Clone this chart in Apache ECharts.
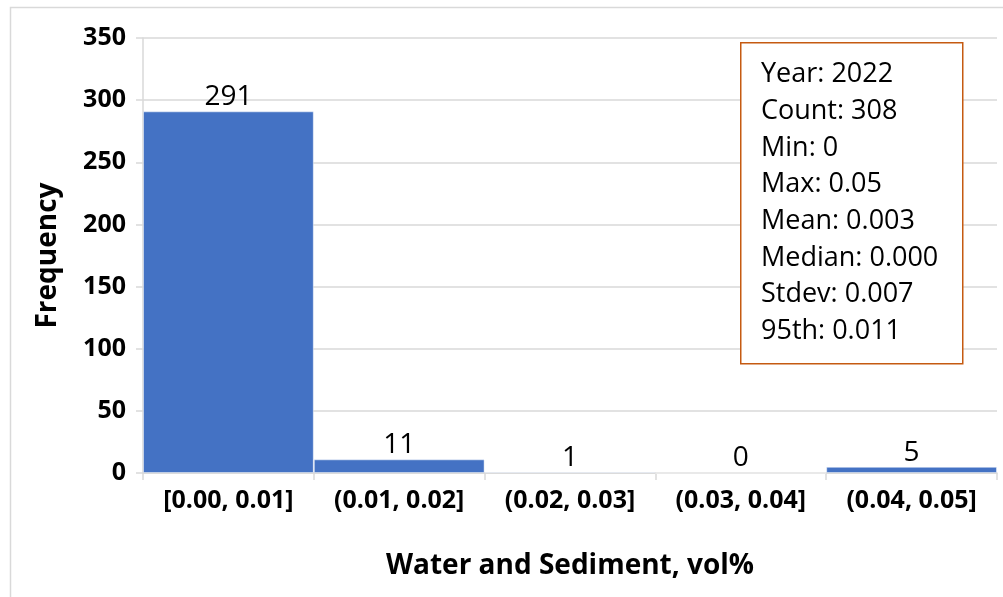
<!DOCTYPE html>
<html>
<head>
<meta charset="utf-8">
<script src="https://cdn.jsdelivr.net/npm/echarts@6/dist/echarts.min.js"></script>
<style>
  html, body { margin: 0; padding: 0; background: #fff; }
  #chart { width: 1003px; height: 597px; }
</style>
</head>
<body>
<div id="chart"></div>
<script>
  // 直方图数据
  const binLabels = ['[0.00, 0.01]', '(0.01, 0.02]', '(0.02, 0.03]', '(0.03, 0.04]', '(0.04, 0.05]']
  const frequency = [291, 11, 1, 0, 5]
  const statLines = ['Year: 2022', 'Count: 308', 'Min: 0', 'Max: 0.05', 'Mean: 0.003', 'Median: 0.000', 'Stdev: 0.007', '95th: 0.011']

  const font = '"Open Sans", "Noto Sans", sans-serif'
  const myChart = echarts.init(document.getElementById('chart'))

  // 统计信息文本框
  const statText = statLines.map((line, i) => ({
    type: 'text',
    left: 761,
    top: 61 + i * 36.7,
    z: 11,
    style: { text: line, fill: '#000', font: '400 27px ' + font }
  }))

  const option = {
    animation: false,
    grid: { left: 143, right: 6, top: 38, bottom: 124 },
    xAxis: {
      type: 'category',
      data: binLabels,
      name: 'Water and Sediment, vol%',
      nameLocation: 'middle',
      nameGap: 79,
      nameTextStyle: { color: '#000', fontFamily: font, fontWeight: 'bold', fontSize: 28 },
      axisLine: { show: true, lineStyle: { color: '#d9d9d9', width: 1.5 } },
      axisTick: { show: true, length: 7, lineStyle: { color: '#d9d9d9', width: 1.5 } },
      axisLabel: { color: '#000', fontFamily: font, fontWeight: 'bold', fontSize: 25, margin: 15 }
    },
    yAxis: {
      type: 'value',
      min: 0,
      max: 350,
      interval: 50,
      name: 'Frequency',
      nameLocation: 'middle',
      nameGap: 81,
      nameTextStyle: { color: '#000', fontFamily: font, fontWeight: 'bold', fontSize: 28 },
      axisLine: { show: true, lineStyle: { color: '#d9d9d9', width: 1.5 } },
      axisTick: { show: true, length: 7, lineStyle: { color: '#d9d9d9', width: 1.5 } },
      axisLabel: { color: '#000', fontFamily: font, fontWeight: 'bold', fontSize: 25, margin: 17 },
      splitLine: { show: true, lineStyle: { color: '#d9d9d9', width: 1.5 } }
    },
    series: [{
      type: 'bar',
      data: frequency,
      barCategoryGap: 0,
      itemStyle: { color: '#4472C4', borderColor: 'rgba(255,255,255,0.45)', borderWidth: 1 },
      label: {
        show: true,
        position: 'top',
        distance: 0,
        color: '#000',
        fontFamily: font,
        fontSize: 28
      }
    }],
    graphic: [
      {
        type: 'rect',
        left: 8,
        top: 5,
        z: -1,
        shape: { width: 1020, height: 620 },
        style: { fill: 'none', stroke: '#d9d9d9', lineWidth: 1.5 }
      },
      {
        type: 'rect',
        left: 740,
        top: 42,
        z: 10,
        shape: { width: 222, height: 321 },
        style: { fill: '#fff', stroke: '#C55A11', lineWidth: 1.5 }
      }
    ].concat(statText)
  }

  myChart.setOption(option)
</script>
</body>
</html>
